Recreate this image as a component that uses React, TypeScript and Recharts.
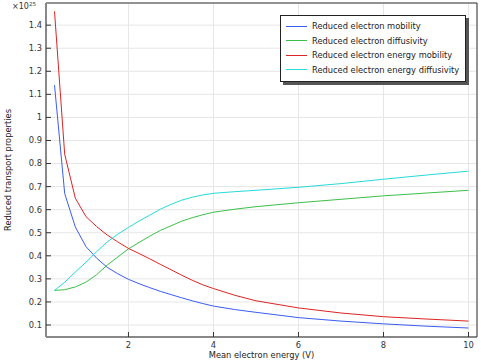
import { LineChart, Line, XAxis, YAxis, CartesianGrid, Legend, Label } from 'recharts';

const energy = [0.26, 0.5, 0.75, 1, 1.25, 1.5, 1.75, 2, 2.25, 2.5, 2.75, 3, 3.25, 3.5, 3.75, 4, 4.5, 5, 6, 7, 8, 9, 10];
const mobility = [1.14, 0.67, 0.525, 0.44, 0.39, 0.35, 0.322, 0.298, 0.279, 0.262, 0.246, 0.232, 0.218, 0.205, 0.193, 0.182, 0.167, 0.155, 0.132, 0.117, 0.105, 0.095, 0.087];
const diffusivity = [0.25, 0.253, 0.265, 0.286, 0.318, 0.36, 0.395, 0.43, 0.458, 0.485, 0.51, 0.53, 0.55, 0.565, 0.578, 0.589, 0.602, 0.613, 0.63, 0.645, 0.66, 0.672, 0.684];
const energyMobility = [1.46, 0.84, 0.65, 0.57, 0.527, 0.49, 0.46, 0.432, 0.41, 0.387, 0.363, 0.34, 0.316, 0.294, 0.274, 0.258, 0.229, 0.205, 0.174, 0.152, 0.136, 0.126, 0.117];
const energyDiffusivity = [0.25, 0.285, 0.33, 0.372, 0.418, 0.46, 0.494, 0.523, 0.551, 0.576, 0.602, 0.623, 0.641, 0.654, 0.664, 0.671, 0.678, 0.684, 0.697, 0.713, 0.732, 0.75, 0.767];

const xTicks = [2, 4, 6, 8, 10];
const yTicks = [0.1, 0.2, 0.3, 0.4, 0.5, 0.6, 0.7, 0.8, 0.9, 1, 1.1, 1.2, 1.3, 1.4];

const series = [
  { key: 'mobility', name: 'Reduced electron mobility', color: '#3b5cf2' },
  { key: 'diffusivity', name: 'Reduced electron diffusivity', color: '#3cbf48' },
  { key: 'energyMobility', name: 'Reduced electron energy mobility', color: '#dd2424' },
  { key: 'energyDiffusivity', name: 'Reduced electron energy diffusivity', color: '#26dada' },
];

const data = energy.map((x, i) => ({
  x,
  mobility: mobility[i],
  diffusivity: diffusivity[i],
  energyMobility: energyMobility[i],
  energyDiffusivity: energyDiffusivity[i],
}));

const xDomain = [0.06, 10.2];
const yDomain = [0.048, 1.496];
const font = '"DejaVu Sans", sans-serif';
const tickStyle = { fontSize: 8.3, fill: '#333', fontFamily: font };

function LegendBox() {
  return (
    <div
      style={{
        width: 186,
        boxSizing: 'border-box',
        border: '1px solid #222',
        background: '#fff',
        boxShadow: '3px 3px 0 #555',
        padding: '3px 0 4px 5px',
        fontFamily: font,
        fontSize: 8.3,
        color: '#222',
        whiteSpace: 'nowrap',
      }}
    >
      {series.map((s) => (
        <div key={s.key} style={{ display: 'flex', alignItems: 'center', height: 14.5 }}>
          <span style={{ display: 'inline-block', width: 21, height: 1, background: s.color, marginRight: 5 }} />
          <span>{s.name}</span>
        </div>
      ))}
    </div>
  );
}

export default function App() {
  return (
    <div style={{ position: 'absolute', left: 0, top: 0, background: '#fff' }}>
      <LineChart
        width={481}
        height={361}
        data={data}
        margin={{ top: 3, right: 4, bottom: 0, left: 0 }}
        style={{ fontFamily: font }}
      >
        <CartesianGrid stroke="#e6e6e6" strokeWidth={1} />
        <XAxis
          dataKey="x"
          type="number"
          domain={xDomain}
          ticks={xTicks}
          allowDataOverflow
          height={24}
          tick={tickStyle}
          tickSize={-5}
          tickMargin={10}
          tickLine={{ stroke: '#333' }}
          axisLine={{ stroke: '#888', strokeWidth: 2 }}
        >
          <Label value="Mean electron energy (V)" position="insideBottom" offset={3} style={{ fontSize: 8.3, fill: '#222', fontFamily: font }} />
        </XAxis>
        <XAxis
          xAxisId="top"
          orientation="top"
          dataKey="x"
          type="number"
          domain={xDomain}
          ticks={xTicks}
          allowDataOverflow
          height={1}
          mirror
          tick={false}
          tickSize={5}
          tickLine={{ stroke: '#333' }}
          axisLine={{ stroke: '#333' }}
        />
        <YAxis
          type="number"
          domain={yDomain}
          ticks={yTicks}
          allowDataOverflow
          width={46}
          tick={tickStyle}
          tickSize={-5}
          tickMargin={9}
          tickLine={{ stroke: '#333' }}
          axisLine={{ stroke: '#888', strokeWidth: 2 }}
          tickFormatter={(v: number) => String(Number(v.toFixed(1)))}
        >
          <Label
            value="Reduced transport properties"
            angle={-90}
            position="insideLeft"
            offset={8}
            style={{ fontSize: 8.3, fill: '#222', fontFamily: font, textAnchor: 'middle' }}
          />
        </YAxis>
        <YAxis
          yAxisId="right"
          orientation="right"
          type="number"
          domain={yDomain}
          ticks={yTicks}
          allowDataOverflow
          width={1}
          mirror
          tick={false}
          tickSize={5}
          tickLine={{ stroke: '#333' }}
          axisLine={{ stroke: '#333' }}
        />
        <Legend
          layout="vertical"
          align="center"
          verticalAlign="middle"
          wrapperStyle={{ left: 280, top: 15, width: 186 }}
          content={() => <LegendBox />}
        />
        {series.map((s) => (
          <Line
            key={s.key}
            dataKey={s.key}
            name={s.name}
            stroke={s.color}
            strokeWidth={1}
            dot={false}
            type="linear"
            isAnimationActive={false}
          />
        ))}
      </LineChart>
      <div style={{ position: 'absolute', left: 12, top: 2, fontFamily: font, fontSize: 8, color: '#333' }}>
        ×10<sup style={{ fontSize: 5.5, verticalAlign: 'top', position: 'relative', top: -1 }}>25</sup>
      </div>
    </div>
  );
}
